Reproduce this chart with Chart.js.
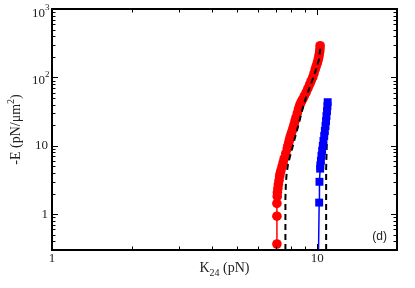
<!DOCTYPE html>
<html>
<head>
<meta charset="utf-8">
<script src="https://cdn.jsdelivr.net/npm/chart.js@4"></script>
<style>
  body { margin: 0; background: #fff; }
</style>
</head>
<body>
<canvas id="myChart" width="415" height="288"></canvas>
<script>
// red circles (simulation)
let redX = [7.05, 7.05, 7.05, 7.07, 7.08, 7.11, 7.14, 7.18, 7.22, 7.25, 7.30, 7.37, 7.44, 7.51, 7.61, 7.71,
            7.75, 7.81, 7.86, 7.91, 7.98, 8.05, 8.12, 8.19, 8.26, 8.33, 8.42, 8.50, 8.57, 8.63, 8.72, 8.82,
            8.95, 9.09, 9.23, 9.37, 9.49, 9.62, 9.73, 9.83, 9.91, 10.0, 10.07, 10.13, 10.175, 10.22, 10.246, 10.26];
let redY = [0.367, 0.936, 1.44, 1.82, 2.08, 2.38, 2.72, 3.11, 3.56, 3.93, 4.34, 4.96, 5.67, 6.48, 7.66, 9.05,
            10.0, 11.05, 12.2, 13.5, 14.9, 16.5, 18.5, 20.8, 23.4, 26.3, 30.1, 34.4, 37.4, 40.6, 44.2, 48.0,
            53.9, 60.6, 69.3, 79.2, 89.0, 100, 114, 131, 144, 160, 176, 195, 215, 238, 263, 291];

// blue squares
let blueX = [10.11, 10.175, 10.20, 10.26, 10.28, 10.33, 10.38, 10.44, 10.50, 10.56, 10.63, 10.69, 10.75,
             10.80, 10.84, 10.89, 10.93, 10.955];
let blueY = [0.23, 1.48, 2.98, 4.64, 5.18, 6.06, 7.16, 8.47, 10.0, 11.8, 13.96, 16.5, 19.5,
             23.0, 27.2, 32.2, 38.0, 43.4];

// dashed black curves (theory)
let dash1X = [7.59, 7.59, 7.62, 7.67, 7.77, 7.91, 8.08, 8.26, 8.48, 8.67, 8.86, 9.13, 9.41, 9.70, 9.96, 10.175, 10.26, 10.28];
let dash1Y = [0.215, 1.71, 2.81, 3.93, 5.49, 7.16, 9.67, 13.5, 19.5, 27.2, 38.0, 54.9, 74.1, 103, 140, 188, 254, 291];
let dash2X = [10.81, 10.81, 10.86, 10.93, 10.965];
let dash2Y = [0.215, 4.64, 9.05, 20.8, 43.4];

let xTicks = [1, 10];
let yTicks = [1, 10, 100, 1000];

function pts(xs, ys) {
    return xs.map((x, i) => ({x: x, y: ys[i]}));
}

let frame = {
    id: 'frame',
    afterDraw(chart) {
        let ctx = chart.ctx;
        let a = chart.chartArea;
        let sx = chart.scales.x;
        let sy = chart.scales.y;
        ctx.save();
        ctx.strokeStyle = '#000';
        ctx.lineWidth = 1;
        // x ticks top and bottom, inward
        for (let d = 1; d <= 10; d *= 10) {
            for (let m = 1; m <= 9; m++) {
                let v = d * m;
                if (v > 20) break;
                let px = Math.round(sx.getPixelForValue(v)) + 0.5;
                let len = m == 1 ? 6 : 3.5;
                ctx.beginPath();
                ctx.moveTo(px, a.bottom); ctx.lineTo(px, a.bottom - len);
                ctx.moveTo(px, a.top); ctx.lineTo(px, a.top + len);
                ctx.stroke();
            }
        }
        // y ticks left and right, inward
        for (let d = 0.1; d <= 1000; d *= 10) {
            for (let m = 1; m <= 9; m++) {
                let v = d * m;
                if (v < 0.32 || v > 1000.5) continue;
                let py = Math.round(sy.getPixelForValue(v)) + 0.5;
                let len = m == 1 ? 6 : 3.5;
                ctx.beginPath();
                ctx.moveTo(a.left, py); ctx.lineTo(a.left + len, py);
                ctx.moveTo(a.right, py); ctx.lineTo(a.right - len, py);
                ctx.stroke();
            }
        }
        ctx.lineWidth = 2;
        ctx.strokeRect(a.left, a.top, a.right - a.left, a.bottom - a.top);

        // tick labels
        ctx.fillStyle = '#222';
        ctx.font = "13px 'Liberation Serif'";
        ctx.textAlign = 'center';
        ctx.textBaseline = 'middle';
        xTicks.forEach(v => ctx.fillText(String(v), sx.getPixelForValue(v), a.bottom + 9));
        yTicks.forEach(v => {
            let py = sy.getPixelForValue(v);
            if (v < 100) {
                ctx.textAlign = 'right';
                ctx.font = "13px 'Liberation Serif'";
                ctx.fillText(String(v), a.left - 4, py);
            } else {
                let off = v == 1000 ? 5 : 3;
                ctx.textAlign = 'right';
                ctx.font = "13px 'Liberation Serif'";
                ctx.fillText('10', a.left - 7, py + off);
                ctx.textAlign = 'left';
                ctx.font = "9px 'Liberation Serif'";
                ctx.fillText(String(Math.round(Math.log10(v))), a.left - 7, py + off - 6);
            }
        });

        // x title: K24 (pN)
        ctx.textBaseline = 'alphabetic';
        ctx.textAlign = 'left';
        let big = "14px 'Liberation Serif'";
        let small = "10px 'Liberation Serif'";
        ctx.font = big;
        let w1 = ctx.measureText('K').width;
        let w3 = ctx.measureText(' (pN)').width;
        ctx.font = small;
        let w2 = ctx.measureText('24').width;
        let x0 = (a.left + a.right) / 2 - (w1 + w2 + w3) / 2;
        ctx.font = big;
        ctx.fillText('K', x0, 272);
        ctx.font = small;
        ctx.fillText('24', x0 + w1, 276);
        ctx.font = big;
        ctx.fillText(' (pN)', x0 + w1 + w2, 272);

        // y title: -E (pN/um^2)
        ctx.save();
        ctx.translate(20, (a.top + a.bottom) / 2);
        ctx.rotate(-Math.PI / 2);
        ctx.font = big;
        let t1 = '-E (pN/\u03bcm';
        let u1 = ctx.measureText(t1).width;
        let u3 = ctx.measureText(')').width;
        ctx.font = small;
        let u2 = ctx.measureText('2').width;
        let y0 = -(u1 + u2 + u3) / 2;
        ctx.font = big;
        ctx.fillText(t1, y0, 0);
        ctx.font = small;
        ctx.fillText('2', y0 + u1, -6);
        ctx.font = big;
        ctx.fillText(')', y0 + u1 + u2, 0);
        ctx.restore();

        // panel label
        ctx.font = "12px 'Liberation Sans'";
        ctx.textAlign = 'right';
        ctx.textBaseline = 'middle';
        ctx.fillText('(d)', a.right - 10, a.bottom - 13);
        ctx.restore();
    }
};

let myChart = document.getElementById('myChart').getContext('2d');

let chart = new Chart(myChart, {
    type: 'scatter',
    data: {
        datasets: [
            {
                data: pts(dash1X, dash1Y),
                showLine: true,
                borderColor: '#000',
                borderWidth: 2,
                borderDash: [6, 4],
                pointRadius: 0
            },
            {
                data: pts(blueX, blueY),
                showLine: true,
                borderColor: '#0000ff',
                borderWidth: 1.5,
                backgroundColor: '#0000ff',
                pointStyle: 'rect',
                pointRadius: 5.6,
                pointBorderWidth: 0
            },
            {
                data: pts(dash2X, dash2Y),
                showLine: true,
                borderColor: '#000',
                borderWidth: 2,
                borderDash: [6, 4],
                pointRadius: 0
            },
            {
                data: pts(redX, redY),
                showLine: true,
                borderColor: '#ff0000',
                borderWidth: 1.5,
                backgroundColor: '#ff0000',
                pointStyle: 'circle',
                pointRadius: 4.8,
                pointBorderWidth: 0
            }
        ]
    },
    options: {
        responsive: false,
        animation: false,
        layout: {
            padding: {left: 52, right: 18, top: 9, bottom: 38}
        },
        plugins: {
            legend: { display: false },
            tooltip: { enabled: false }
        },
        scales: {
            x: { type: 'logarithmic', min: 1, max: 20, display: false },
            y: { type: 'logarithmic', min: 0.32, max: 1000, display: false }
        }
    },
    plugins: [frame]
});
</script>
</body>
</html>
